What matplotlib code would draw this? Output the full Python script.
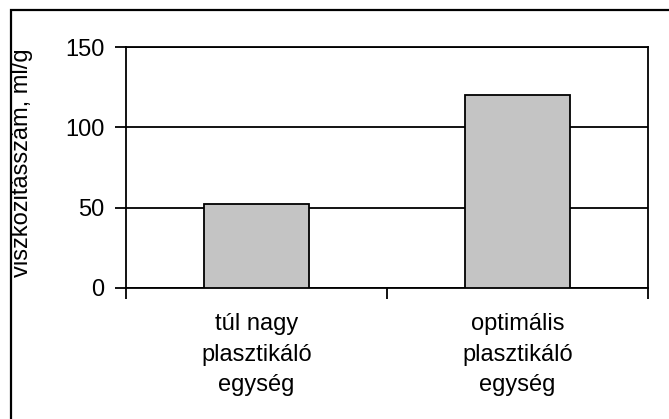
import matplotlib
matplotlib.use("Agg")
import matplotlib.pyplot as plt
from matplotlib.patches import Rectangle

categories = ["túl nagy\nplasztikáló\negység", "optimális\nplasztikáló\negység"]
values = [52, 120]
yticks = [0, 50, 100, 150]
ylabel = "viszkozitásszám, ml/g"

plt.rcParams['font.family'] = ['Liberation Sans', 'DejaVu Sans']

W, H = 669, 419
fig = plt.figure(figsize=(W / 100, H / 100), dpi=100)

# outer frame
fig.patches.append(Rectangle((11 / W, -0.05), 1.0, (H - 10) / H + 0.05, transform=fig.transFigure,
                             fill=False, edgecolor='black', linewidth=1.6))

ax = fig.add_axes([126 / W, (H - 288) / H, (648 - 126) / W, (288 - 47) / H])
x = list(range(len(categories)))
ax.bar(x, values, width=0.4, color='#c4c4c4', edgecolor='black', linewidth=1.3, zorder=3)
ax.set_xlim(-0.5, len(categories) - 0.5)
ax.set_ylim(0, 150)
ax.set_yticks(yticks)
ax.set_yticklabels([str(t) for t in yticks], fontsize=17)
ax.yaxis.grid(True, color='black', linewidth=1.3, zorder=0)
ax.set_axisbelow(True)

ax.set_xticks([i + 0.0 for i in x])
ax.set_xticklabels(categories, fontsize=17, linespacing=1.5)
ax.tick_params(axis='x', length=0, pad=18)
ax.set_xticks([-0.5 + i for i in range(len(categories) + 1)], minor=True)
ax.tick_params(axis='x', which='minor', length=8, width=1.3, direction='out')
ax.tick_params(axis='y', length=8, width=1.3, direction='out', pad=7.5)
for s in ax.spines.values():
    s.set_linewidth(1.3)
    s.set_color('black')

fig.text(22 / W, 1 - 163 / H, ylabel, rotation=90, ha='center', va='center', fontsize=17)

fig.savefig("out.png", dpi=100)
